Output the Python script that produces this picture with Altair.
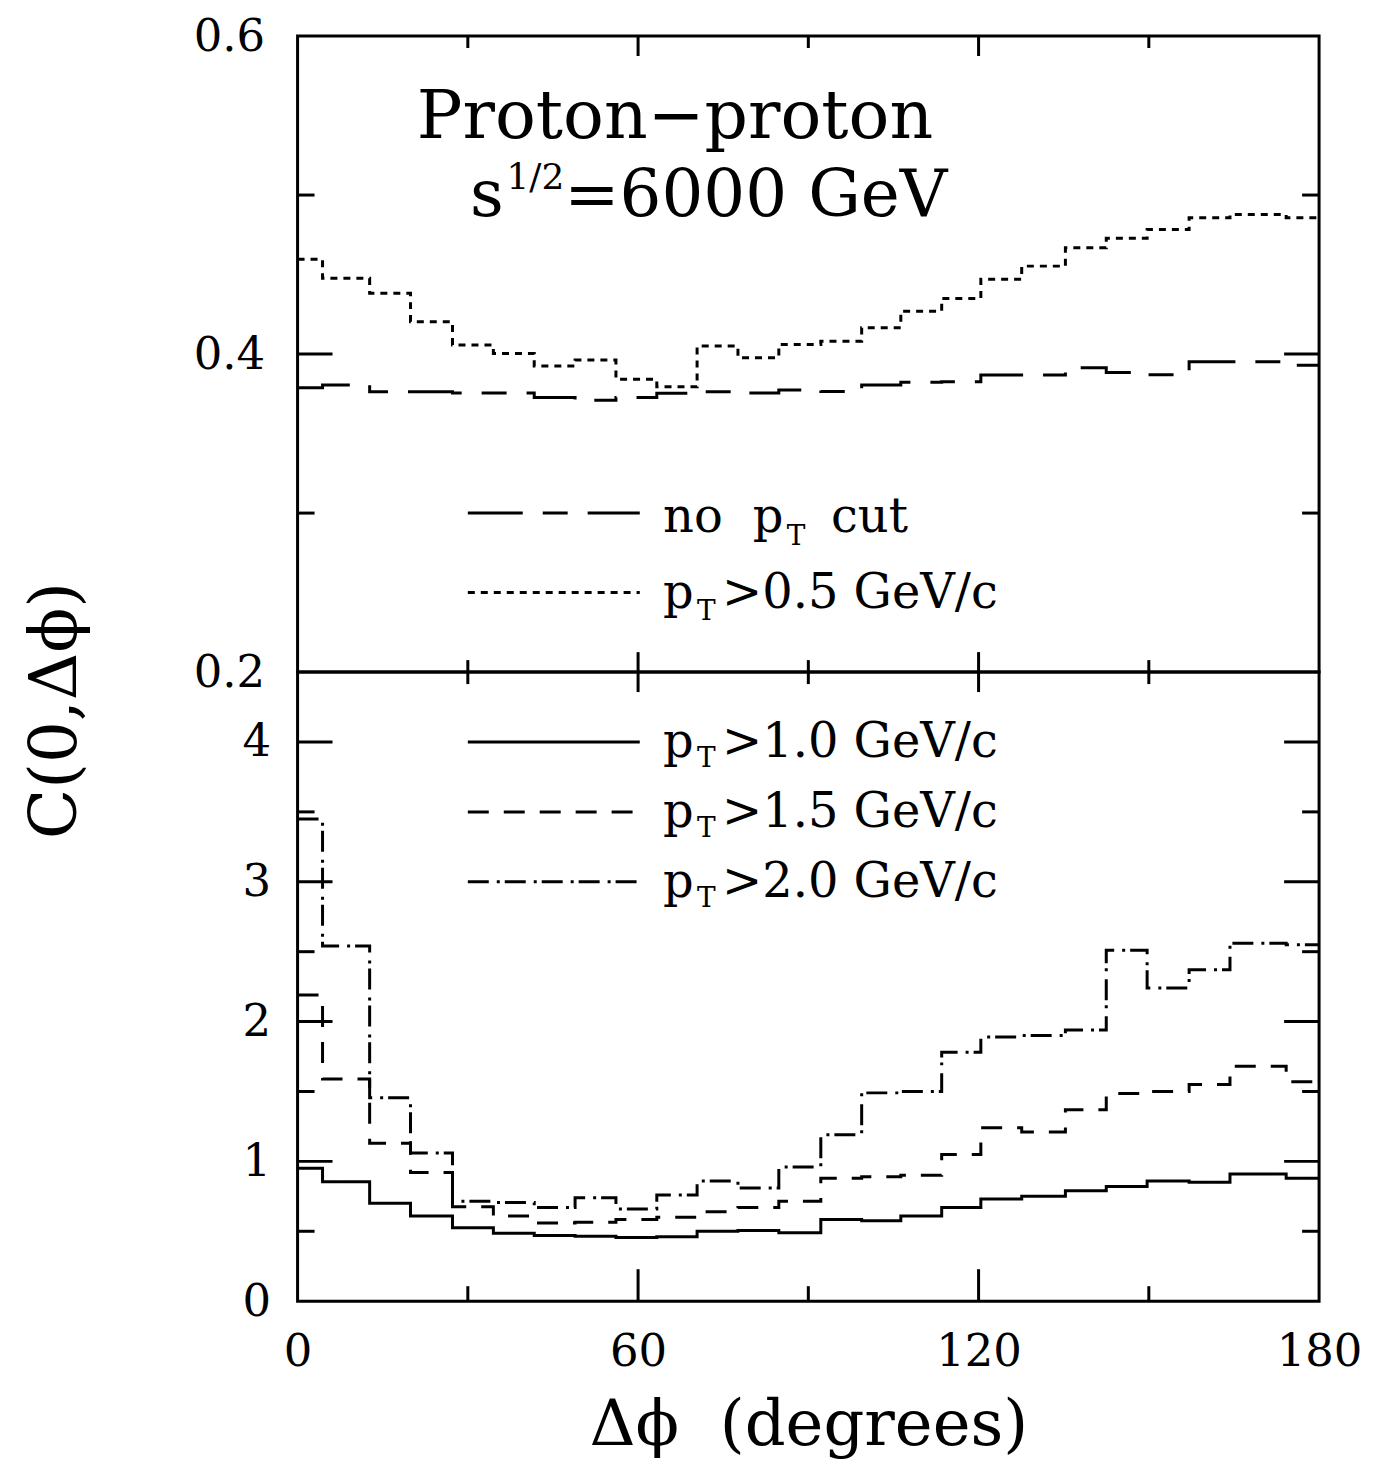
import altair as alt
import pandas as pd

FONT = "DejaVu Serif"

# bin edges (degrees)
edges = [0, 4.4, 12.7, 19.9, 27.3, 34.5, 41.7, 48.9, 56.1, 63.3, 70.4, 77.6, 84.8,
         92.2, 99.4, 106.3, 113.5, 120.4, 127.6, 135.3, 142.5, 149.7, 157.1, 164.3, 174.2, 180]

# upper panel
no_cut = [0.3788, 0.3805, 0.3763, 0.3763, 0.3755, 0.3755, 0.3727, 0.3710, 0.3727, 0.3753,
          0.3763, 0.3755, 0.3774, 0.3765, 0.3805, 0.3823, 0.3826, 0.3868, 0.3868, 0.3914,
          0.3884, 0.3870, 0.3952, 0.3952, 0.3930]
pt05 = [0.4596, 0.4476, 0.4382, 0.4203, 0.4057, 0.4004, 0.3925, 0.3962, 0.3841, 0.3794,
        0.4050, 0.3977, 0.4060, 0.4080, 0.4166, 0.4270, 0.4350, 0.4470, 0.4553, 0.4669,
        0.4728, 0.4784, 0.4857, 0.4878, 0.4857]
# lower panel
pt10 = [0.95, 0.855, 0.70, 0.61, 0.525, 0.485, 0.47, 0.465, 0.455, 0.46,
        0.50, 0.505, 0.49, 0.585, 0.575, 0.61, 0.67, 0.73, 0.75, 0.79,
        0.82, 0.86, 0.85, 0.91, 0.88]
pt15 = [2.19, 1.59, 1.13, 0.92, 0.675, 0.61, 0.56, 0.565, 0.585, 0.60,
        0.64, 0.67, 0.715, 0.88, 0.89, 0.90, 1.05, 1.24, 1.21, 1.37,
        1.485, 1.50, 1.55, 1.68, 1.57]
pt20 = [3.45, 2.54, 1.455, 1.06, 0.715, 0.705, 0.67, 0.74, 0.66, 0.76,
        0.86, 0.81, 0.96, 1.19, 1.49, 1.50, 1.78, 1.89, 1.90, 1.94,
        2.51, 2.24, 2.37, 2.56, 2.55]

series_ids = ["nocut", "p05", "p10", "p15", "p20"]
dash_patterns = [[55, 20, 25, 20], [7, 6], [1, 0], [21, 15], [21, 8, 3, 5]]

x_labels = [0, 60, 120, 180]
top_labels = [0.2, 0.4, 0.6]
bot_labels = [0, 1, 2, 3, 4]
x_major = [60, 120]
x_minor = [30, 90, 150]
top_major = [0.4]
top_minor = [0.3, 0.5]
bot_major = [1, 2, 3, 4]
bot_minor = [0.5, 1.5, 2.5, 3.5]

W, HT, HB = 1023, 637, 630
LBL = 45

XS = alt.Scale(domain=[0, 180], nice=False, zero=False)
YT = alt.Scale(domain=[0.2, 0.6], nice=False, zero=False)
YB = alt.Scale(domain=[0, 4.5], nice=False, zero=False)

DASH = alt.StrokeDash("series:N", scale=alt.Scale(domain=series_ids, range=dash_patterns), legend=None)

AX_YT = alt.Axis(values=top_labels, format=".1f", ticks=False, domain=False, grid=False,
                 labelFont=FONT, labelFontSize=LBL, labelColor="black", labelPadding=33, title=None)
AX_XB = alt.Axis(values=x_labels, format="d", ticks=False, domain=False, grid=False,
                 labelFont=FONT, labelFontSize=LBL, labelColor="black", labelPadding=28,
                 labelFlush=False, title="\u0394\u03d5\u00a0\u00a0(degrees)", titleFont=FONT,
                 titleFontSize=64, titleFontWeight="normal", titleColor="black", titlePadding=20)
AX_YB = alt.Axis(values=bot_labels, format="d", ticks=False, domain=False, grid=False,
                 labelFont=FONT, labelFontSize=LBL, labelColor="black", labelPadding=27,
                 title="C(0,\u0394\u03d5)", titleFont=FONT, titleFontSize=66,
                 titleFontWeight="normal", titleColor="black",
                 titleX=-242, titleY=38, titleAngle=270, titleAlign="center", titleBaseline="middle")

PANEL = {
    "top": {"xaxis": None, "yaxis": AX_YT, "ysc": YT},
    "bot": {"xaxis": AX_XB, "yaxis": AX_YB, "ysc": YB},
}


def steps(sid, vals):
    return pd.DataFrame({"x": edges, "y": vals + [vals[-1]], "series": sid})


df_top = pd.concat([steps("nocut", no_cut), steps("p05", pt05)], ignore_index=True)
df_bot = pd.concat([steps("p10", pt10), steps("p15", pt15), steps("p20", pt20)], ignore_index=True)


def X(p, field="x"):
    return alt.X(f"{field}:Q", scale=XS, axis=PANEL[p]["xaxis"])


def Y(p, field="y"):
    return alt.Y(f"{field}:Q", scale=PANEL[p]["ysc"], axis=PANEL[p]["yaxis"])


def lines(p, df):
    return alt.Chart(df).mark_line(interpolate="step-after", strokeWidth=3, color="black").encode(
        x=X(p), y=Y(p), strokeDash=DASH, detail="series:N")


def xticks(p, vals, y0, y1):
    return alt.Chart(pd.DataFrame({"x": vals})).mark_rule(color="black", strokeWidth=3).encode(
        x=X(p), y=alt.value(y0), y2=alt.value(y1))


def yticks(p, vals, x0, x1):
    return alt.Chart(pd.DataFrame({"y": vals})).mark_rule(color="black", strokeWidth=3).encode(
        y=Y(p), x=alt.value(x0), x2=alt.value(x1))


def label(p, x, y, s, size, align="left"):
    return alt.Chart(pd.DataFrame({"x": [x], "y": [y], "t": [s]})).mark_text(
        font=FONT, fontSize=size, align=align, baseline="alphabetic", color="black"
    ).encode(x=X(p), y=Y(p), text="t:N")


def legend_lines(p, ys, ids):
    d = pd.DataFrame({"x": [30] * len(ys), "x2": [60.3] * len(ys), "y": ys, "series": ids})
    return alt.Chart(d).mark_rule(color="black", strokeWidth=3).encode(
        x=X(p), x2="x2:Q", y=Y(p), strokeDash=DASH)


top = alt.layer(
    lines("top", df_top),
    xticks("top", x_major, HT, HT - 20), xticks("top", x_minor, HT, HT - 12),
    xticks("top", x_major, 0, 20), xticks("top", x_minor, 0, 12),
    yticks("top", top_major, 0, 35), yticks("top", top_minor, 0, 17),
    yticks("top", top_major, W - 35, W), yticks("top", top_minor, W - 17, W),
    label("top", 66.5, 0.536, "Proton\u2212proton", 68, align="center"),
    label("top", 30.4, 0.487, "s", 66),
    label("top", 36.8, 0.504, "1/2", 36),
    label("top", 47.0, 0.487, "=6000 GeV", 66),
    legend_lines("top", [0.30, 0.25], ["nocut", "p05"]),
    label("top", 64.4, 0.2879, "no", 48),
    label("top", 80.2, 0.2879, "p", 48),
    label("top", 86.2, 0.2797, "T", 28),
    label("top", 94.0, 0.2879, "cut", 48),
    label("top", 64.4, 0.2402, "p", 48),
    label("top", 70.4, 0.2327, "T", 28),
    label("top", 74.8, 0.2402, ">0.5 GeV/c", 48),
).properties(width=W, height=HT)

bottom = alt.layer(
    lines("bot", df_bot),
    xticks("bot", x_major, 0, 20), xticks("bot", x_minor, 0, 12),
    xticks("bot", x_major, HB, HB - 32), xticks("bot", x_minor, HB, HB - 15),
    yticks("bot", bot_major, 0, 35), yticks("bot", bot_minor, 0, 17),
    yticks("bot", bot_major, W - 35, W), yticks("bot", bot_minor, W - 17, W),
    legend_lines("bot", [4.0, 3.5, 3.0], ["p10", "p15", "p20"]),
    label("bot", 64.4, 3.893, "p", 48), label("bot", 70.4, 3.821, "T", 28),
    label("bot", 74.8, 3.893, ">1.0 GeV/c", 48),
    label("bot", 64.4, 3.393, "p", 48), label("bot", 70.4, 3.321, "T", 28),
    label("bot", 74.8, 3.393, ">1.5 GeV/c", 48),
    label("bot", 64.4, 2.893, "p", 48), label("bot", 70.4, 2.821, "T", 28),
    label("bot", 74.8, 2.893, ">2.0 GeV/c", 48),
).properties(width=W, height=HB)

chart = alt.vconcat(top, bottom, spacing=0, bounds="flush").properties(
    padding={"left": 13, "top": 3, "right": 5, "bottom": 3},
    background="white",
).configure_view(stroke="black", strokeWidth=3).configure_axis(grid=False)

chart.save("out.html", embed_options={"renderer": "svg", "actions": False})
